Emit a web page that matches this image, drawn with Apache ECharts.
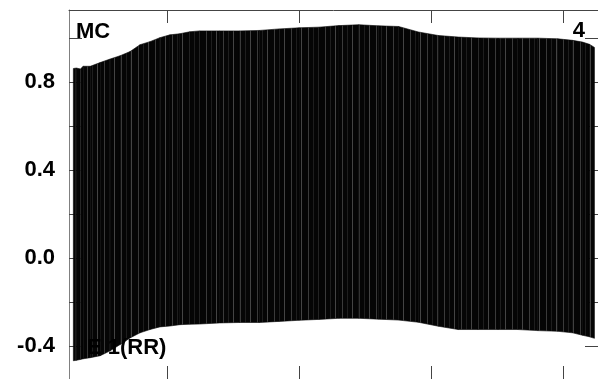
<!DOCTYPE html>
<html>
<head>
<meta charset="utf-8">
<script src="https://cdn.jsdelivr.net/npm/echarts@6/dist/echarts.min.js"></script>
<style>
html,body{margin:0;padding:0;background:#fff;}
#chart{width:598px;height:379px;}
</style>
</head>
<body>
<div id="chart"></div>
<script>
// Sample positions along the x axis (axis ticks at 1,2,3,4)
const xPositions = [0.293,0.316,0.346,0.368,0.421,0.496,0.571,0.647,0.722,0.797,0.872,0.947,1.023,1.098,1.173,1.248,1.398,1.549,1.699,1.850,2.000,2.150,2.301,2.451,2.602,2.752,2.902,3.053,3.203,3.353,3.504,3.654,3.805,3.955,4.068,4.143,4.195,4.233];
// Upper (peak) envelope of the oscillating signal
const upperEnvelope = [0.862,0.864,0.860,0.872,0.872,0.889,0.905,0.920,0.939,0.970,0.984,1.002,1.015,1.020,1.029,1.033,1.033,1.033,1.035,1.042,1.047,1.050,1.057,1.061,1.056,1.053,1.028,1.012,1.005,1.001,1.000,1.000,1.000,0.997,0.990,0.982,0.972,0.958];
// Lower (trough) envelope of the oscillating signal
const lowerEnvelope = [-0.467,-0.465,-0.461,-0.458,-0.453,-0.444,-0.422,-0.393,-0.363,-0.340,-0.325,-0.313,-0.309,-0.303,-0.301,-0.300,-0.295,-0.293,-0.293,-0.288,-0.283,-0.279,-0.274,-0.274,-0.278,-0.282,-0.292,-0.310,-0.325,-0.325,-0.325,-0.325,-0.330,-0.333,-0.340,-0.351,-0.358,-0.365];
const yTickValues = [-0.4,-0.2,0,0.2,0.4,0.6,0.8,1.0];
const yLabelValues = [-0.4,0,0.4,0.8];
const xTickValues = [1,2,3,4];
const labelTopLeft = 'MC';
const labelTopRight = '4';
const labelBottomLeft = 'E 1(RR)';

const X_MIN = 0.26, X_MAX = 4.26, Y_MIN = -0.55, Y_MAX = 1.128;
const FONT = 'Liberation Sans, Arial, sans-serif';

// dense-trace texture: dark fill with faint vertical stripes
const tile = document.createElement('canvas');
tile.width = 17; tile.height = 4;
const tc = tile.getContext('2d');
tc.fillStyle = '#050505'; tc.fillRect(0,0,17,4);
tc.fillStyle = '#3a3a3a'; tc.fillRect(2,0,1,4);
tc.fillStyle = '#1e1e1e'; tc.fillRect(7,0,1,4);
tc.fillStyle = '#444444'; tc.fillRect(12,0,1,4);
const BAND = {image: tile, repeat: 'repeat'};

// segments of the signal band: [x0, lo0, hi0, x1, lo1, hi1]
const segments = xPositions.slice(0, -1).map((x, i) => [
  x, lowerEnvelope[i], upperEnvelope[i],
  xPositions[i+1], lowerEnvelope[i+1], upperEnvelope[i+1]
]);

const chart = echarts.init(document.getElementById('chart'), null, {renderer:'canvas'});
const tickStyle = {color:'#444', width:1};
chart.setOption({
  animation:false,
  backgroundColor:'#fff',
  grid:{left:69, top:10, width:531, height:371, containLabel:false},
  xAxis:[
    {type:'value', position:'bottom', min:X_MIN, max:X_MAX,
     axisLine:{show:false, onZero:false}, axisLabel:{show:false}, splitLine:{show:false},
     axisTick:{show:true, inside:true, length:13, customValues:xTickValues, lineStyle:tickStyle}},
    {type:'value', position:'top', min:X_MIN, max:X_MAX,
     axisLine:{show:true, onZero:false, lineStyle:{color:'#444', width:1}}, axisLabel:{show:false}, splitLine:{show:false},
     axisTick:{show:true, inside:true, length:13, customValues:xTickValues, lineStyle:tickStyle}}
  ],
  yAxis:[
    {type:'value', position:'left', min:Y_MIN, max:Y_MAX,
     axisLine:{show:true, onZero:false, lineStyle:{color:'#808080', width:1}}, splitLine:{show:false},
     axisTick:{show:true, inside:true, length:13, customValues:yTickValues, lineStyle:tickStyle},
     axisLabel:{show:true, customValues:yLabelValues, margin:14, color:'#000', fontSize:22, fontWeight:'bold', fontFamily:FONT,
       formatter:(v)=>Number(v).toFixed(1)}},
    {type:'value', position:'right', min:Y_MIN, max:Y_MAX,
     axisLine:{show:true, onZero:false, lineStyle:{color:'#444', width:1}}, splitLine:{show:false},
     axisTick:{show:true, inside:true, length:13, customValues:yTickValues, lineStyle:tickStyle},
     axisLabel:{show:false}}
  ],
  series:[
    {type:'custom', name:'signal', xAxisIndex:0, yAxisIndex:0, data:segments, silent:true,
     encode:{x:[0,3], y:[1,2,4,5]},
     renderItem:function(params, api){
       const a = api.coord([api.value(0), api.value(1)]);
       const b = api.coord([api.value(0), api.value(2)]);
       const c = api.coord([api.value(3), api.value(5)]);
       const d = api.coord([api.value(3), api.value(4)]);
       return {type:'polygon', shape:{points:[a,b,c,d]}, style:{fill:BAND, stroke:'#050505', lineWidth:0.6}};
     }}
  ],
  graphic:[
    {type:'text', left:76, top:21, z:100, style:{text:labelTopLeft, font:'bold 22px '+FONT, fill:'#000'}},
    {type:'text', right:13, top:20, z:100, style:{text:labelTopRight, font:'bold 22px '+FONT, fill:'#000'}},
    {type:'text', left:87, top:337, z:100, style:{text:labelBottomLeft, font:'bold 22px '+FONT, fill:'#000'}}
  ]
});
</script>
</body>
</html>
